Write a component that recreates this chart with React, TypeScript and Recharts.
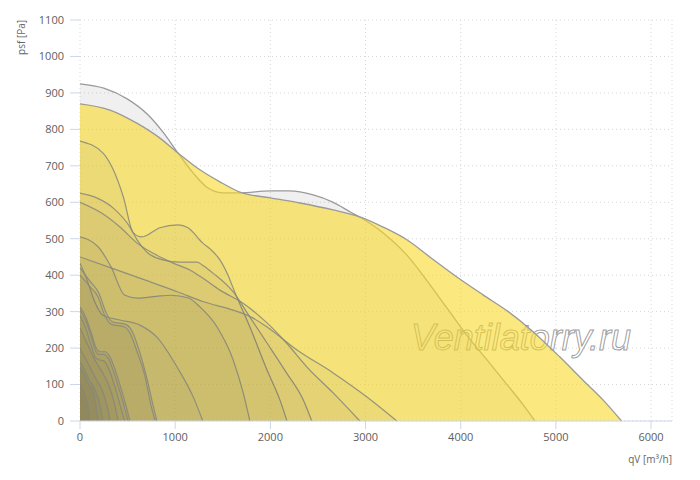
import { ComposedChart, Area, XAxis, YAxis, CartesianGrid, Customized } from "recharts";

// fan curves, [qV m³/h, psf Pa]
const curveA = [[0, 925], [250, 913], [500, 883], [714, 840], [870, 793], [1030, 735], [1190, 680], [1330, 642], [1500, 626], [1680, 626], [2000, 631], [2200, 631], [2450, 620], [2650, 601], [2850, 572], [2960, 556], [3185, 516], [3435, 455], [3645, 385], [3855, 310], [4065, 235], [4300, 160], [4480, 102], [4655, 45], [4780, 0]];
const curveB = [[0, 870], [315, 853], [597, 817], [840, 776], [1030, 735], [1260, 689], [1470, 656], [1680, 628], [2000, 612], [2310, 598], [2660, 579], [2940, 560], [3185, 532], [3435, 497], [3675, 450], [3960, 395], [4235, 346], [4500, 300], [4760, 245], [5040, 176], [5285, 112], [5495, 58], [5690, 0]];
const curveC = [[0, 768], [242, 735], [350, 689], [455, 615], [560, 516], [650, 505], [840, 530], [1030, 538], [1135, 530], [1290, 488], [1375, 470], [1470, 442], [1555, 400], [1630, 351], [1785, 258], [1965, 140], [2100, 58], [2175, 0]];
const curveD = [[0, 625], [175, 612], [350, 584], [525, 532], [600, 497], [700, 464], [870, 442], [1050, 436], [1230, 436], [1300, 425], [1400, 405], [1610, 354], [1785, 285], [1965, 214], [2170, 132], [2345, 58], [2435, 0]];
const curveE = [[0, 600], [210, 573], [420, 532], [600, 488], [770, 460], [980, 433], [1155, 414], [1300, 390], [1470, 359], [1710, 324], [1965, 269], [2170, 214], [2385, 148], [2660, 77], [2940, 0]];
const curveF = [[0, 505], [190, 478], [326, 423], [470, 345], [610, 337], [800, 342], [955, 345], [1135, 338], [1260, 313], [1440, 258], [1610, 167], [1715, 77], [1785, 0]];
const curveG = [[0, 450], [326, 420], [680, 387], [1030, 354], [1300, 327], [1610, 304], [1800, 285], [1965, 258], [2280, 195], [2660, 132], [3015, 66], [3330, 0]];
const curveI = [[0, 433], [70, 390], [150, 330], [240, 290], [420, 277], [630, 263], [808, 230], [1020, 148], [1200, 60], [1290, 0]];
const curveJ = [[0, 420], [100, 385], [200, 350], [270, 300], [340, 272], [480, 265], [550, 245], [620, 195], [700, 120], [770, 40], [808, 0]];
const curveJ2 = [[0, 400], [100, 370], [190, 340], [260, 290], [330, 265], [470, 258], [535, 236], [600, 190], [680, 126], [745, 44], [790, 0]];
const curveK = [[0, 313], [60, 285], [120, 240], [170, 200], [210, 190], [260, 190], [310, 178], [370, 140], [430, 90], [490, 35], [525, 0]];
const curveL = [[0, 305], [60, 275], [120, 230], [160, 195], [200, 183], [250, 183], [300, 170], [360, 130], [420, 80], [475, 30], [505, 0]];
const curveM = [[0, 290], [60, 255], [120, 205], [160, 175], [200, 168], [250, 165], [300, 145], [360, 100], [420, 45], [470, 0]];
const curveN = [[0, 255], [80, 210], [150, 170], [220, 140], [300, 100], [360, 50], [400, 0]];
const curveO = [[0, 200], [60, 170], [120, 140], [180, 110], [240, 80], [290, 35], [315, 0]];
const curveP = [[0, 162], [50, 140], [100, 110], [140, 95], [180, 70], [220, 30], [240, 0]];
const curveQ = [[0, 148], [50, 125], [90, 100], [130, 85], [165, 45], [190, 0]];
const curveR = [[0, 104], [40, 80], [70, 55], [95, 25], [105, 0]];

const innerCurves = [curveC, curveD, curveE, curveF, curveG, curveI, curveJ, curveJ2, curveK, curveL, curveM, curveN, curveO, curveP, curveQ, curveR];

const xTicks = [0, 1000, 2000, 3000, 4000, 5000, 6000];
const yTicks = [0, 100, 200, 300, 400, 500, 600, 700, 800, 900, 1000, 1100];

const toRows = (c: number[][]) => c.map(([q, p]) => ({ q, p }));

const axisColor = "#ccd6eb";
const tickStyle = { fill: "#606060", fontSize: 11, fontFamily: "Open Sans" };

function YTitle(props: any) {
  const vb = props.viewBox || { x: 12, y: 12 };
  const x = vb.x + 5;
  const y = vb.y;
  return (
    <text x={x} y={y} transform={`rotate(-90 ${x} ${y})`} textAnchor="end" fill="#666" fontSize={10} fontFamily="Open Sans">
      psf [Pa]
    </text>
  );
}

function XTitle(props: any) {
  const vb = props.viewBox || { x: 72, y: 413, width: 592 };
  return (
    <text x={vb.x + vb.width} y={vb.y + 42} textAnchor="end" fill="#666" fontSize={10} fontFamily="Open Sans">
      qV [m³/h]
    </text>
  );
}

function Watermark() {
  return (
    <text x={513} y={342} textAnchor="middle" fontSize={36} fontStyle="italic" fontFamily="Liberation Sans"
      fill="#ffffff" fillOpacity={0.45} stroke="#8c8c8c" strokeOpacity={0.85} strokeWidth={1}>
      Ventilatorry.ru
    </text>
  );
}

export default function App() {
  return (
    <ComposedChart width={700} height={480} margin={{ top: 12, right: 36, bottom: 23, left: 12 }}>
      <CartesianGrid stroke="#d6d6d6" strokeDasharray="1 3" />
      <XAxis
        dataKey="q"
        type="number"
        domain={[0, 6220]}
        ticks={xTicks}
        allowDataOverflow
        height={44}
        stroke={axisColor}
        tickSize={8}
        tickMargin={4}
        tick={tickStyle}
        label={<XTitle />}
      />
      <YAxis
        dataKey="p"
        type="number"
        domain={[0, 1100]}
        ticks={yTicks}
        width={60}
        axisLine={false}
        tickLine={{ stroke: axisColor }}
        tickSize={10}
        tickMargin={6}
        tick={tickStyle}
        label={<YTitle />}
      />
      <Area data={toRows(curveA)} dataKey="p" type="monotone" stroke="#9a9a9a" strokeWidth={1.3} fill="#888888" fillOpacity={0.13} dot={false} activeDot={false} isAnimationActive={false} />
      <Area data={toRows(curveB)} dataKey="p" type="monotone" stroke="#9a9a9a" strokeWidth={1.3} fill="#f8d82a" fillOpacity={0.6} dot={false} activeDot={false} isAnimationActive={false} />
      {innerCurves.map((c, i) => (
        <Area key={i} data={toRows(c)} dataKey="p" type="monotone" stroke="#86867c" strokeOpacity={0.85} strokeWidth={1.2} fill="#505048" fillOpacity={0.05} dot={false} activeDot={false} isAnimationActive={false} />
      ))}
      <Customized component={Watermark} />
    </ComposedChart>
  );
}
